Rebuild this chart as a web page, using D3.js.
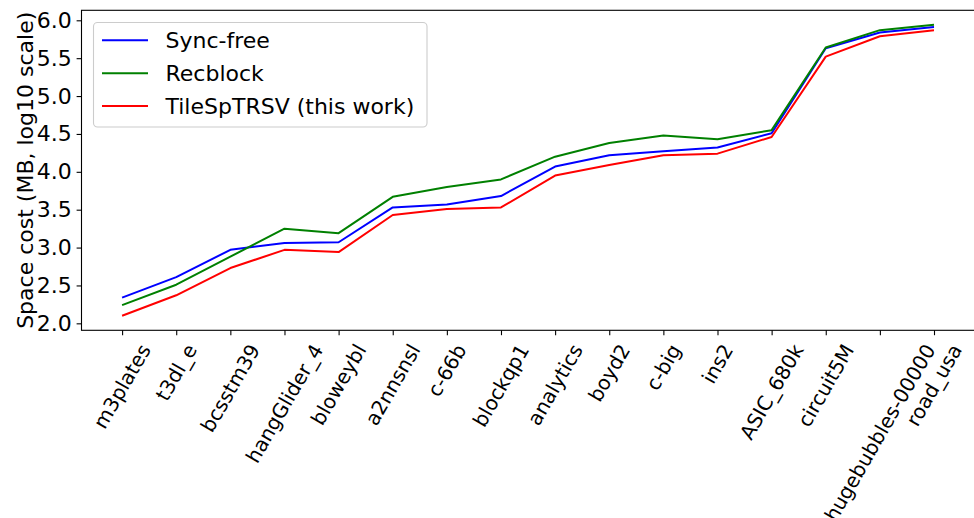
<!DOCTYPE html>
<html>
<head>
<meta charset="utf-8">
<script src="https://cdn.jsdelivr.net/npm/d3@7"></script>
<style>
  html, body { margin: 0; padding: 0; background: #fff; }
  svg { display: block; font-family: "DejaVu Sans", sans-serif; }
</style>
</head>
<body>
<svg id="chart" width="974" height="518"></svg>
<script>
// Matrices, ordered by problem size
const matrices = ["m3plates", "t3dl_e", "bcsstm39", "hangGlider_4", "bloweybl", "a2nnsnsl",
  "c-66b", "blockqp1", "analytics", "boyd2", "c-big", "ins2", "ASIC_680k", "circuit5M",
  "hugebubbles-00000", "road_usa"];

// Space cost per method (MB, log10)
const syncFree = [2.34, 2.61, 2.97, 3.06, 3.07, 3.53, 3.57, 3.68, 4.07, 4.22, 4.27, 4.32, 4.51, 5.63, 5.84, 5.91];
const recblock = [2.24, 2.51, 2.88, 3.25, 3.19, 3.67, 3.80, 3.90, 4.20, 4.38, 4.48, 4.43, 4.55, 5.64, 5.87, 5.94];
const tileSpTRSV = [2.10, 2.37, 2.73, 2.97, 2.94, 3.43, 3.51, 3.53, 3.95, 4.09, 4.22, 4.24, 4.46, 5.52, 5.79, 5.87];

const yTicks = [2.0, 2.5, 3.0, 3.5, 4.0, 4.5, 5.0, 5.5, 6.0];

const seriesList = [
  { name: "Sync-free", values: syncFree, color: "#0000ff" },
  { name: "Recblock", values: recblock, color: "#008000" },
  { name: "TileSpTRSV (this work)", values: tileSpTRSV, color: "#ff0000" }
];

const svg = d3.select("#chart");
const plot = { left: 81.5, right: 974.6, top: 10.3, bottom: 330.3 };
const fsBig = 22;
const fsX = 20;
const tickLen = 4.9;

const x = d3.scalePoint().domain(matrices).range([plot.left, plot.right]).padding(0.75);
const y = d3.scaleLinear().domain([1.908, 6.132]).range([plot.bottom, plot.top]);

// Series lines
const line = d3.line().x((d, i) => x(matrices[i])).y(d => y(d));
svg.append("g").selectAll("path").data(seriesList).join("path")
  .attr("d", s => line(s.values))
  .attr("fill", "none")
  .attr("stroke", s => s.color)
  .attr("stroke-width", 2)
  .attr("stroke-linejoin", "round")
  .attr("stroke-linecap", "butt");

// Y axis
const yAxis = svg.append("g").attr("transform", `translate(${plot.left},0)`)
  .call(d3.axisLeft(y).tickValues(yTicks).tickFormat(d3.format(".1f"))
    .tickSize(tickLen).tickPadding(4.9));
yAxis.select(".domain").remove();
yAxis.selectAll(".tick line").attr("stroke", "#000").attr("stroke-width", 1.1);
yAxis.selectAll(".tick text").attr("font-size", fsBig).attr("fill", "#000")
  .attr("font-family", "DejaVu Sans");

// X axis ticks
const xAxis = svg.append("g").attr("transform", `translate(0,${plot.bottom})`)
  .call(d3.axisBottom(x).tickSize(tickLen).tickFormat(""));
xAxis.select(".domain").remove();
xAxis.selectAll(".tick line").attr("stroke", "#000").attr("stroke-width", 1.1);

// Rotated category labels, bounding box centred under each tick
const labelTop = plot.bottom + tickLen + 4.9;
const ang = 60 * Math.PI / 180;
const lh = fsX * 1.17;
svg.append("g").selectAll("text").data(matrices).join("text")
  .text(d => d)
  .attr("font-size", fsX)
  .attr("fill", "#000")
  .attr("text-anchor", "middle")
  .attr("dominant-baseline", "central")
  .each(function (d) {
    const w = this.getComputedTextLength();
    const bh = w * Math.sin(ang) + lh * Math.cos(ang);
    const cx = x(d), cy = labelTop + bh / 2;
    d3.select(this).attr("transform", `translate(${cx},${cy}) rotate(-60)`);
  });

// Spines
svg.append("rect")
  .attr("x", plot.left).attr("y", plot.top)
  .attr("width", plot.right - plot.left).attr("height", plot.bottom - plot.top)
  .attr("fill", "none").attr("stroke", "#000").attr("stroke-width", 1.1);

// Y axis title
svg.append("text")
  .attr("transform", `translate(33,${(plot.top + plot.bottom) / 2}) rotate(-90)`)
  .attr("text-anchor", "middle")
  .attr("font-size", fsBig)
  .attr("fill", "#000")
  .text("Space cost (MB, log10 scale)");

// Legend
const legend = svg.append("g");
legend.append("rect")
  .attr("x", 93.5).attr("y", 22.5).attr("width", 333.5).attr("height", 104.5)
  .attr("rx", 4).attr("ry", 4)
  .attr("fill", "#fff").attr("fill-opacity", 0.8)
  .attr("stroke", "#cccccc").attr("stroke-width", 1.1);
const rows = legend.selectAll("g.row").data(seriesList).join("g")
  .attr("class", "row")
  .attr("transform", (d, i) => `translate(0,${40.3 + i * 32.85})`);
rows.append("line")
  .attr("x1", 102).attr("x2", 148).attr("y1", 0).attr("y2", 0)
  .attr("stroke", d => d.color).attr("stroke-width", 2);
rows.append("text")
  .attr("x", 165.5).attr("y", 0)
  .attr("dominant-baseline", "central")
  .attr("font-size", fsBig).attr("fill", "#000")
  .text(d => d.name);
</script>
</body>
</html>
